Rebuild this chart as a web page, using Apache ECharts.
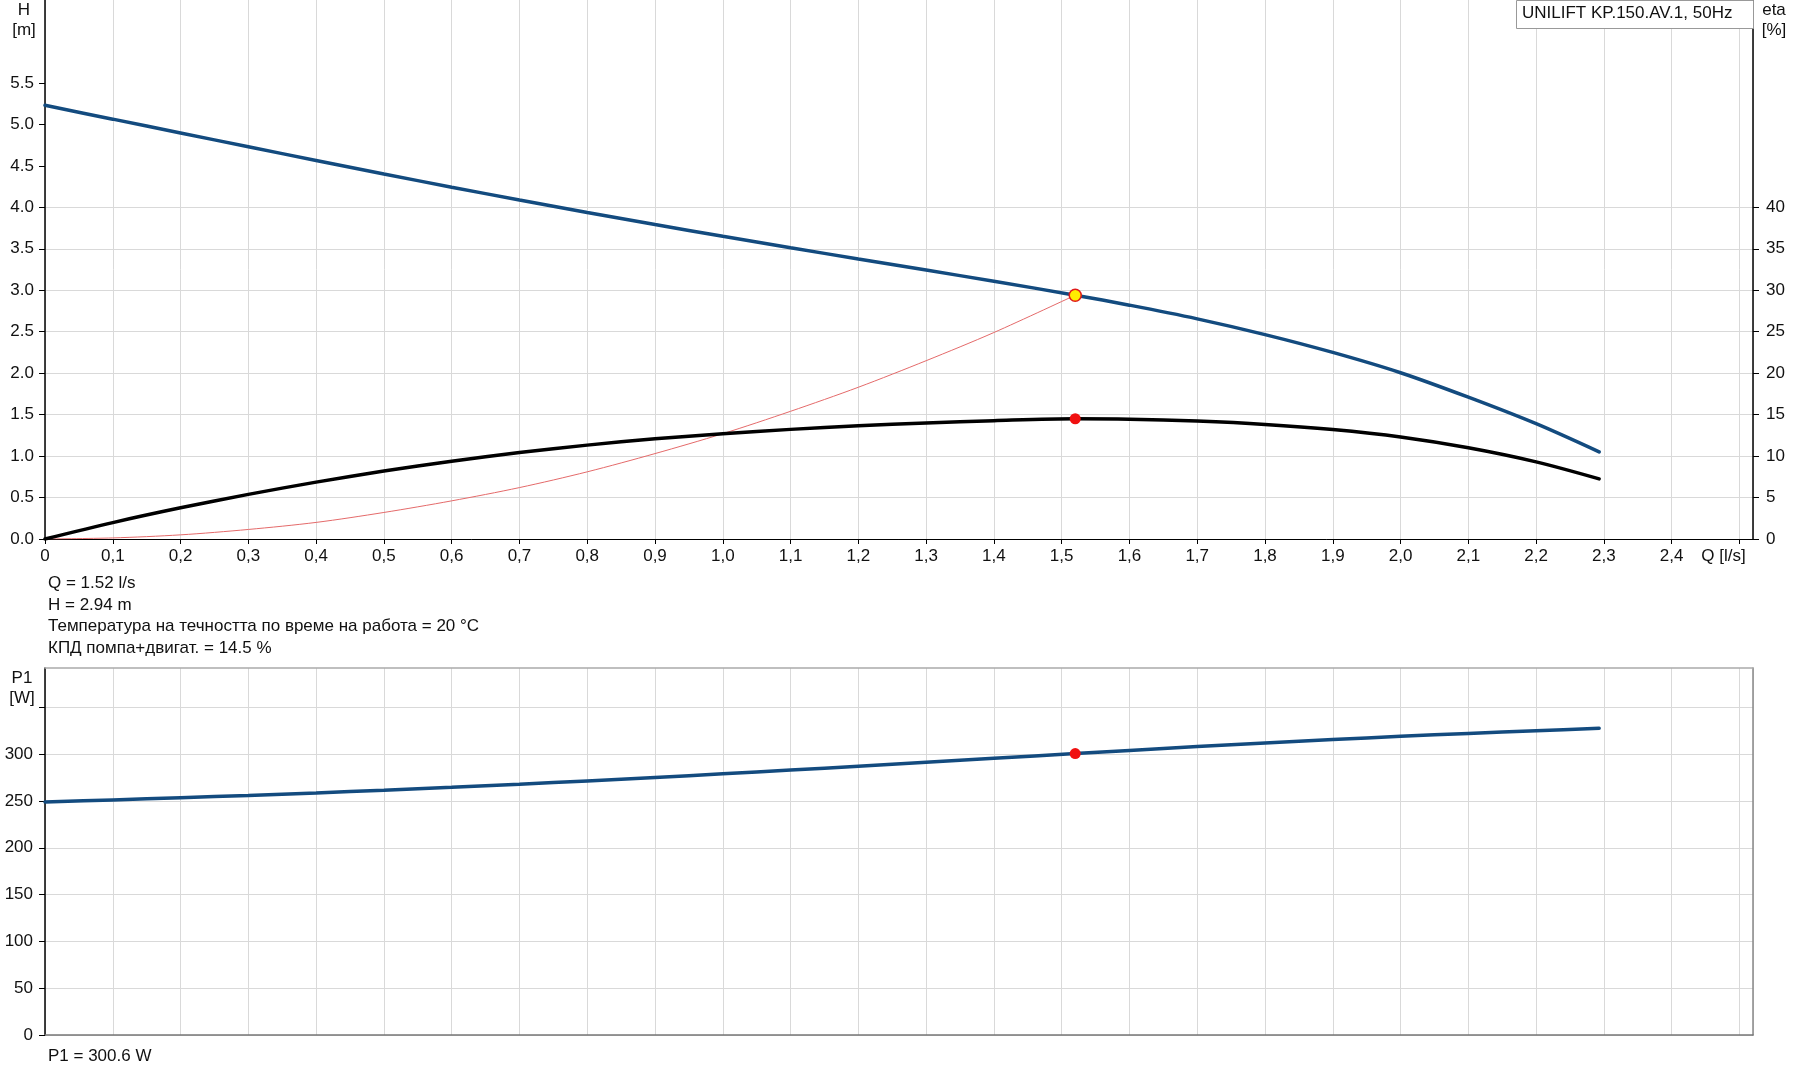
<!DOCTYPE html>
<html>
<head>
<meta charset="utf-8">
<script src="https://cdn.jsdelivr.net/npm/echarts@6/dist/echarts.min.js"></script>
<style>
html,body{margin:0;padding:0;background:#fff;}
#chart{width:1795px;height:1081px;}
</style>
</head>
<body>
<div id="chart"></div>
<script>
// ---- data ----
const pumpName = 'UNILIFT KP.150.AV.1, 50Hz';
const qPts   = [0, 0.1, 0.2, 0.3, 0.4, 0.5, 0.6, 0.7, 0.8, 0.9, 1.0, 1.1, 1.2, 1.3, 1.4, 1.52, 1.6, 1.7, 1.8, 1.9, 2.0, 2.1, 2.2, 2.293];
const hVals  = [5.23, 5.063, 4.896, 4.730, 4.565, 4.402, 4.243, 4.088, 3.938, 3.792, 3.650, 3.512, 3.377, 3.243, 3.109, 2.94, 2.82, 2.655, 2.465, 2.25, 2.005, 1.71, 1.39, 1.05];
const etaVals= [0, 1.98, 3.76, 5.38, 6.86, 8.19, 9.38, 10.42, 11.32, 12.08, 12.7, 13.22, 13.65, 14.0, 14.27, 14.5, 14.45, 14.22, 13.82, 13.2, 12.3, 11.0, 9.3, 7.25];
const p1Vals = [249, 251.1, 253.4, 255.9, 258.6, 261.5, 264.6, 267.9, 271.4, 275.1, 279.0, 283.0, 287.1, 291.3, 295.5, 300.6, 304.0, 308.1, 312.0, 315.6, 319.0, 322.1, 325.0, 327.6];
const sysQ   = [0, 0.1, 0.2, 0.3, 0.4, 0.5, 0.6, 0.7, 0.8, 0.9, 1.0, 1.1, 1.2, 1.3, 1.4, 1.52];
const sysH   = [0, 0.013, 0.05, 0.115, 0.2, 0.32, 0.46, 0.62, 0.81, 1.03, 1.27, 1.54, 1.83, 2.15, 2.49, 2.94];
const opQ = 1.52, opH = 2.94, opEta = 14.5, opP1 = 300.6, opTemp = 20;
const hTickValues   = [0, 0.5, 1.0, 1.5, 2.0, 2.5, 3.0, 3.5, 4.0, 4.5, 5.0, 5.5];
const etaTickValues = [0, 5, 10, 15, 20, 25, 30, 35, 40];
const p1TickValues  = [0, 50, 100, 150, 200, 250, 300, 350];
const p1LabelValues = [0, 50, 100, 150, 200, 250, 300];

const zip = (a, b) => a.map((v, i) => [v, b[i]]);
const FONT = 'Liberation Sans, Arial, sans-serif';
const FS = 17;
const BLUE = '#134b7f';
const GRID = '#d9d9d9';
const lbl = {color: '#111', fontFamily: FONT, fontSize: FS};

const chart = echarts.init(document.getElementById('chart'), null, {renderer: 'canvas'});
const xBase = {type: 'value', min: 0, max: 2.52, interval: 0.1};

chart.setOption({
  animation: false,
  backgroundColor: '#fff',
  grid: [
    {left: 45, right: 42, top: 0, bottom: 542},
    {left: 45, right: 42, top: 668, bottom: 46}
  ],
  xAxis: [
    Object.assign({}, xBase, {
      gridIndex: 0,
      axisLine: {show: true, onZero: false, lineStyle: {color: '#000', width: 1}},
      axisTick: {show: true, length: 5, lineStyle: {color: '#000'}},
      axisLabel: Object.assign({}, lbl, {
        margin: 9, showMaxLabel: false,
        formatter: v => {
          if (Math.abs(v) < 1e-9) return '0';
          if (Math.abs(v - 2.5) < 1e-6) return '{q|Q [l/s]}';
          if (Math.abs(v * 10 - Math.round(v * 10)) > 1e-6) return '';
          return v.toFixed(1).replace('.', ',');
        },
        rich: {q: {color: '#111', fontFamily: FONT, fontSize: FS, padding: [0, 32, 0, 0]}}
      }),
      splitLine: {show: true, lineStyle: {color: GRID, width: 1}}
    }),
    Object.assign({}, xBase, {
      gridIndex: 1,
      axisLine: {show: true, onZero: false, lineStyle: {color: '#777', width: 1.5}},
      axisTick: {show: false}, axisLabel: {show: false},
      splitLine: {show: true, lineStyle: {color: GRID, width: 1}}
    }),
    Object.assign({}, xBase, {
      gridIndex: 1, position: 'top',
      axisLine: {show: true, onZero: false, lineStyle: {color: '#aaa', width: 1.5}},
      axisTick: {show: false}, axisLabel: {show: false}, splitLine: {show: false}
    })
  ],
  yAxis: [
    {
      type: 'value', gridIndex: 0, position: 'left', min: 0, max: 6.5, interval: 0.5,
      axisLine: {show: true, onZero: false, lineStyle: {color: '#000', width: 1.5}},
      axisTick: {show: true, length: 6, customValues: hTickValues, lineStyle: {color: '#000'}},
      axisLabel: Object.assign({}, lbl, {margin: 11, customValues: hTickValues, formatter: v => v.toFixed(1)}),
      splitLine: {show: false}
    },
    {
      type: 'value', gridIndex: 0, position: 'right', min: 0, max: 65, interval: 5,
      axisLine: {show: true, onZero: false, lineStyle: {color: '#000', width: 1.5}},
      axisTick: {show: true, length: 6, customValues: etaTickValues, lineStyle: {color: '#000'}},
      axisLabel: Object.assign({}, lbl, {margin: 13, customValues: etaTickValues}),
      splitLine: {show: true, lineStyle: {color: GRID, width: 1}}
    },
    {
      type: 'value', gridIndex: 1, position: 'left', min: 0, max: 392, interval: 50,
      axisLine: {show: true, onZero: false, lineStyle: {color: '#000', width: 1.5}},
      axisTick: {show: true, length: 6, customValues: p1TickValues, lineStyle: {color: '#000'}},
      axisLabel: Object.assign({}, lbl, {margin: 12, customValues: p1LabelValues}),
      splitLine: {show: true, lineStyle: {color: GRID, width: 1}}
    },
    {
      type: 'value', gridIndex: 1, position: 'right', min: 0, max: 392,
      axisLine: {show: true, onZero: false, lineStyle: {color: '#888', width: 1.5}},
      axisTick: {show: false}, axisLabel: {show: false}, splitLine: {show: false}
    }
  ],
  series: [
    {
      name: 'system', type: 'line', xAxisIndex: 0, yAxisIndex: 0, data: zip(sysQ, sysH),
      smooth: 0.3, showSymbol: false, lineStyle: {color: '#e46a6a', width: 1}, z: 2
    },
    {
      name: 'H', type: 'line', xAxisIndex: 0, yAxisIndex: 0, data: zip(qPts, hVals),
      smooth: 0.3, showSymbol: false, lineStyle: {color: BLUE, width: 3.5, cap: 'round'}, z: 3
    },
    {
      name: 'eta', type: 'line', xAxisIndex: 0, yAxisIndex: 1, data: zip(qPts, etaVals),
      smooth: 0.3, showSymbol: false, lineStyle: {color: '#000', width: 3.5, cap: 'round'}, z: 3
    },
    {
      name: 'P1', type: 'line', xAxisIndex: 1, yAxisIndex: 2, data: zip(qPts, p1Vals),
      smooth: 0.3, showSymbol: false, lineStyle: {color: BLUE, width: 3.5, cap: 'round'}, z: 3
    },
    {
      name: 'opH', type: 'scatter', xAxisIndex: 0, yAxisIndex: 0, data: [[opQ, opH]],
      symbolSize: 12, itemStyle: {color: '#ffee00', borderColor: '#e01a1a', borderWidth: 1.5, opacity: 1}, z: 5
    },
    {
      name: 'opEta', type: 'scatter', xAxisIndex: 0, yAxisIndex: 1, data: [[opQ, opEta]],
      symbolSize: 11, itemStyle: {color: '#f01010', opacity: 1}, z: 5
    },
    {
      name: 'opP1', type: 'scatter', xAxisIndex: 1, yAxisIndex: 2, data: [[opQ, opP1]],
      symbolSize: 11, itemStyle: {color: '#f01010', opacity: 1}, z: 5
    }
  ],
  graphic: [
    {type: 'rect', left: 1516, top: 0, z: 10,
     shape: {width: 237, height: 28}, style: {fill: '#fff', stroke: '#999', lineWidth: 1}},
    {type: 'text', left: 1522, top: 5, z: 11,
     style: {text: pumpName, fill: '#111', font: FS + 'px ' + FONT}},
    {type: 'text', x: 24, y: 10, z: 11,
     style: {text: 'H', fill: '#111', font: FS + 'px ' + FONT, align: 'center', verticalAlign: 'middle'}},
    {type: 'text', x: 24, y: 30, z: 11,
     style: {text: '[m]', fill: '#111', font: FS + 'px ' + FONT, align: 'center', verticalAlign: 'middle'}},
    {type: 'text', x: 1774, y: 10, z: 11,
     style: {text: 'eta', fill: '#111', font: FS + 'px ' + FONT, align: 'center', verticalAlign: 'middle'}},
    {type: 'text', x: 1774, y: 30, z: 11,
     style: {text: '[%]', fill: '#111', font: FS + 'px ' + FONT, align: 'center', verticalAlign: 'middle'}},
    {type: 'text', x: 22, y: 678, z: 11,
     style: {text: 'P1', fill: '#111', font: FS + 'px ' + FONT, align: 'center', verticalAlign: 'middle'}},
    {type: 'text', x: 22, y: 698, z: 11,
     style: {text: '[W]', fill: '#111', font: FS + 'px ' + FONT, align: 'center', verticalAlign: 'middle'}},
    {type: 'text', x: 48, y: 583, z: 11,
     style: {text: 'Q = ' + opQ.toFixed(2) + ' l/s', fill: '#111', font: FS + 'px ' + FONT, verticalAlign: 'middle'}},
    {type: 'text', x: 48, y: 605, z: 11,
     style: {text: 'H = ' + opH.toFixed(2) + ' m', fill: '#111', font: FS + 'px ' + FONT, verticalAlign: 'middle'}},
    {type: 'text', x: 48, y: 626.5, z: 11,
     style: {text: 'Температура на течността по време на работа = ' + opTemp + ' °C', fill: '#111', font: FS + 'px ' + FONT, verticalAlign: 'middle'}},
    {type: 'text', x: 48, y: 648, z: 11,
     style: {text: 'КПД помпа+двигат. = ' + opEta.toFixed(1) + ' %', fill: '#111', font: FS + 'px ' + FONT, verticalAlign: 'middle'}},
    {type: 'text', x: 48, y: 1056, z: 11,
     style: {text: 'P1 = ' + opP1.toFixed(1) + ' W', fill: '#111', font: FS + 'px ' + FONT, verticalAlign: 'middle'}}
  ]
});
</script>
</body>
</html>
